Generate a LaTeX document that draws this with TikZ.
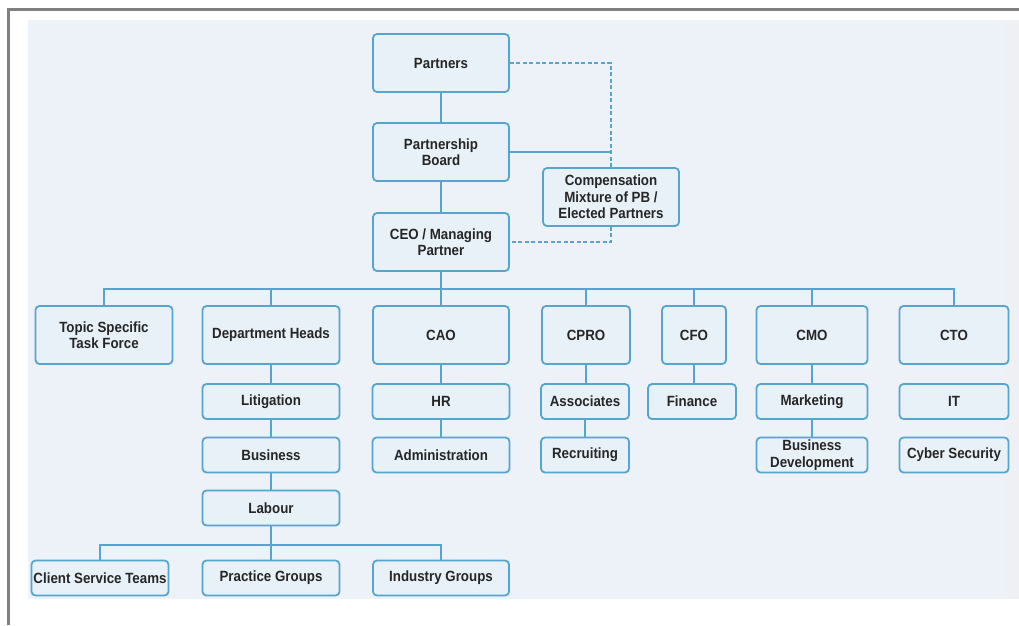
\documentclass[tikz,border=0pt]{standalone}
\usepackage{fontspec}
\setmainfont{Liberation Sans}[FakeStretch=0.9]
\begin{document}
\definecolor{panel}{HTML}{EDF2F9}
\definecolor{paneledge}{HTML}{EEF0F4}
\definecolor{boxfill}{HTML}{E8F0F8}
\definecolor{boxline}{HTML}{55A5CE}
\definecolor{ink}{HTML}{262626}
\definecolor{framegray}{HTML}{808080}
\begin{tikzpicture}[x=1pt,y=-1pt,
  orgbox/.style={draw=boxline, line width=1.8pt, rounded corners=4pt, fill=boxfill,
    text=ink, align=center, inner sep=0pt,
    font=\fontsize{14.8}{16.5}\selectfont\bfseries},
  tall/.style={orgbox, minimum height=58pt},
  short/.style={orgbox, minimum height=35pt},
  link/.style={draw=boxline, line width=2pt},
  dlink/.style={draw=boxline, line width=1.5pt, dash pattern=on 4pt off 2.5pt}]
\useasboundingbox (0,0) rectangle (1019,625);
% page and frame
\fill[white] (0,0) rectangle (1019,625);
\fill[panel] (28,20) rectangle (1006,599);
\fill[paneledge] (1006,20) rectangle (1019,599);
\draw[framegray, line width=3pt] (8.5,625) -- (8.5,9) -- (1019,9);

% governance
\node[tall, minimum width=136pt] (partners) at (441,63) {Partners};
\node[tall, minimum width=136pt] (board) at (441,152) {Partnership\\Board};
\node[tall, minimum width=136pt] (ceo) at (441,242) {CEO / Managing\\Partner};
\node[tall, minimum width=136pt] (comp) at (611,197) {Compensation\\Mixture of PB /\\Elected Partners};

% executives
\node[tall, minimum width=137pt] (topic) at (104,335) {Topic Specific\\Task Force};
\node[tall, minimum width=137pt] (dept) at (271,335) {Department Heads};
\node[tall, minimum width=136pt] (cao) at (441,335) {CAO};
\node[tall, minimum width=88pt] (cpro) at (586,335) {CPRO};
\node[tall, minimum width=64pt] (cfo) at (694,335) {CFO};
\node[tall, minimum width=111pt] (cmo) at (812,335) {CMO};
\node[tall, minimum width=109pt] (cto) at (954,335) {CTO};

% departments
\node[short, minimum width=137pt] (lit) at (271,401.5) {Litigation};
\node[short, minimum width=137pt] (bus) at (271,455) {Business};
\node[short, minimum width=137pt] (lab) at (271,508) {Labour};
\node[short, minimum width=137pt] (hr) at (441,401.5) {HR};
\node[short, minimum width=137pt] (adm) at (441,455) {Administration};
\node[short, minimum width=88pt] (assoc) at (585,401.5) {Associates};
\node[short, minimum width=88pt] (recr) at (585,455) {Recruiting};
\node[short, minimum width=88pt] (fin) at (692,401.5) {Finance};
\node[short, minimum width=111pt] (mkt) at (812,401.5) {Marketing};
\node[short, minimum width=111pt] (bizdev) at (812,455) {Business\\Development};
\node[short, minimum width=109pt] (it) at (954,401.5) {IT};
\node[short, minimum width=109pt] (cyber) at (954,455) {Cyber Security};

% labour groups
\node[short, minimum width=137pt] (client) at (100,578) {Client Service Teams};
\node[short, minimum width=137pt] (practice) at (271,578) {Practice Groups};
\node[short, minimum width=136pt] (industry) at (441,578) {Industry Groups};

% solid reporting lines
\draw[link] (partners) -- (board);
\draw[link] (board) -- (ceo);
\draw[link] (board.east) -- (board.east -| comp.north);
\coordinate (execbus) at (441,289);
\draw[link] (ceo) -- (execbus);
\draw[link] (topic.north) |- (execbus) -| (cto.north);
\foreach \n in {dept,cao,cpro,cfo,cmo}
  \draw[link] (\n.north) -- (\n.north |- execbus);
\draw[link] (dept) -- (lit);
\draw[link] (lit) -- (bus);
\draw[link] (bus) -- (lab);
\draw[link] (cao) -- (hr);
\draw[link] (hr) -- (adm);
\draw[link] (cpro.south) -- (cpro.south |- assoc.north);
\draw[link] (assoc) -- (recr);
\draw[link] (cfo.south) -- (cfo.south |- fin.north);
\draw[link] (cmo) -- (mkt);
\draw[link] (mkt) -- (bizdev);
\coordinate (labbus) at (271,545);
\draw[link] (lab) -- (practice);
\draw[link] (client.north) |- (labbus) -| (industry.north);

% compensation committee (dashed)
\draw[dlink] (partners.east) -| (comp.north);
\draw[dlink] (comp.south) |- (ceo.east);
\end{tikzpicture}
\end{document}
